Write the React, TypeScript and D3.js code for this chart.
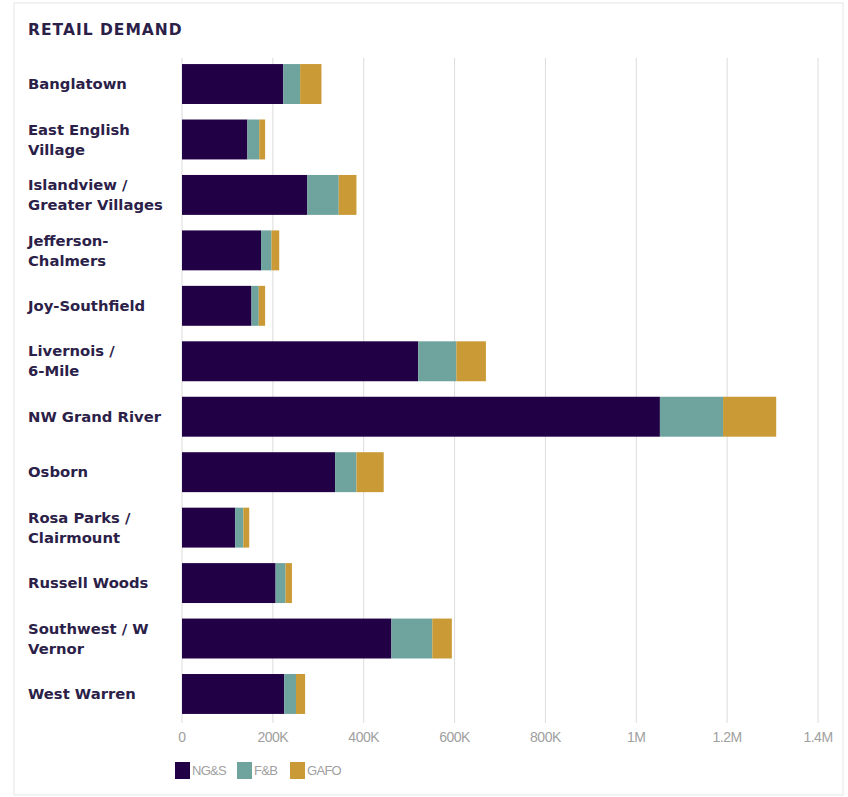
import React from "react";
import * as d3 from "d3";

const categories: string[][] = [
  ["Banglatown"],
  ["East English", "Village"],
  ["Islandview /", "Greater Villages"],
  ["Jefferson-", "Chalmers"],
  ["Joy-Southfield"],
  ["Livernois /", "6-Mile"],
  ["NW Grand River"],
  ["Osborn"],
  ["Rosa Parks /", "Clairmount"],
  ["Russell Woods"],
  ["Southwest / W", "Vernor"],
  ["West Warren"],
];
const ngs = [223, 144, 276, 174, 153, 520, 1052, 337, 117, 206, 461, 225];
const fb = [37, 26, 69, 23, 16, 84, 139, 47, 18, 22, 90, 26];
const gafo = [47, 13, 39, 17, 14, 65, 117, 60, 13, 14, 43, 20];
const seriesNames = ["NG&S", "F&B", "GAFO"];
const seriesColors = ["#220046", "#6fa39e", "#c99a35"];
const tickValues = [0, 200, 400, 600, 800, 1000, 1200, 1400];
const tickLabels = ["0", "200K", "400K", "600K", "800K", "1M", "1.2M", "1.4M"];

export default function App() {
  const W = 848, H = 797;
  const x = d3.scaleLinear().domain([0, 1400]).range([182, 818]);
  const keys = categories.map((c) => c.join(" "));
  const y = d3.scaleBand().domain(keys).range([56.3, 721.7]).paddingInner(0.28).paddingOuter(0.14);
  const rows = keys.map((k, i) => ({ key: k, ngs: ngs[i], fb: fb[i], gafo: gafo[i] }));
  const stack = d3.stack<any>().keys(["ngs", "fb", "gafo"])(rows);
  const textColor = "#2b2148";
  const font = "'DejaVu Sans', Verdana, sans-serif";
  const narrow = "'Liberation Sans Narrow', 'Liberation Sans', Arial";
  const legendX = [175, 237, 290];
  return (
    <svg width={W} height={H} style={{ position: "absolute", left: 0, top: 0, background: "#fff" }}>
      <rect x={14} y={3} width={829} height={792} fill="#fff" stroke="#e6e6e6" strokeWidth={1} />
      <text x={28} y={35} fontFamily={font} fontWeight="bold" fontSize={15.5} fill={textColor} letterSpacing={1}>
        RETAIL DEMAND
      </text>
      {tickValues.map((t) => (
        <line key={t} x1={x(t)} x2={x(t)} y1={58} y2={723} stroke="#dcdcdc" strokeWidth={1} />
      ))}
      {tickValues.map((t, i) => (
        <text key={t} x={x(t)} y={742} textAnchor="middle" fontFamily={narrow} fontSize={14} fill="#a0a0a0" letterSpacing={-0.5}>
          {tickLabels[i]}
        </text>
      ))}
      {stack.map((s, si) =>
        s.map((d, i) => (
          <rect
            key={si + "-" + i}
            x={x(d[0])}
            y={y(keys[i])}
            width={x(d[1]) - x(d[0])}
            height={y.bandwidth()}
            fill={seriesColors[si]}
          />
        ))
      )}
      {categories.map((lines, i) => {
        const cy = (y(keys[i]) as number) + y.bandwidth() / 2;
        const lh = 20;
        const start = cy - ((lines.length - 1) * lh) / 2;
        return (
          <text key={i} fontFamily={font} fontWeight="bold" fontSize={14.8} fill={textColor}>
            {lines.map((l, j) => (
              <tspan key={j} x={28} y={start + j * lh} dy="0.35em">
                {l}
              </tspan>
            ))}
          </text>
        );
      })}
      {seriesNames.map((n, i) => (
        <g key={n}>
          <rect x={legendX[i]} y={762} width={15} height={17} fill={seriesColors[i]} />
          <text x={legendX[i] + 17} y={775} fontFamily={narrow} fontSize={13} fill="#a0a0a0" letterSpacing={-0.7}>
            {n}
          </text>
        </g>
      ))}
    </svg>
  );
}
